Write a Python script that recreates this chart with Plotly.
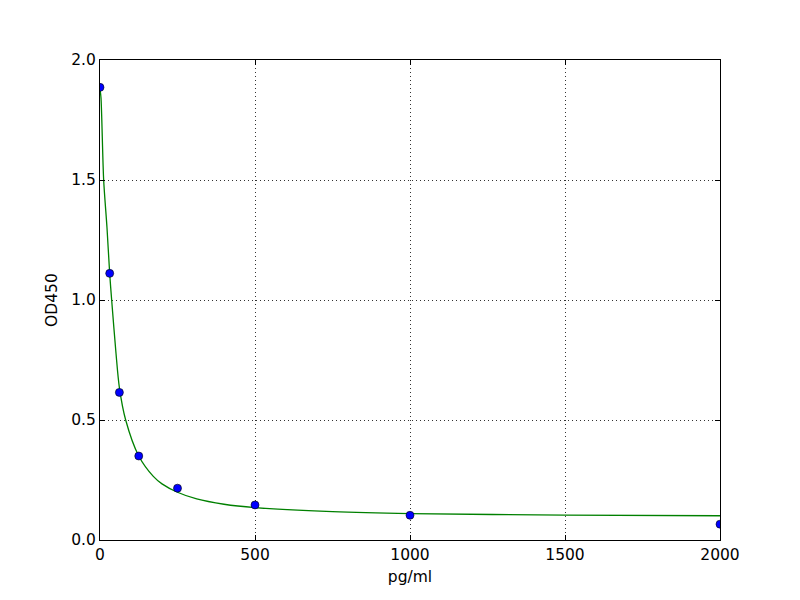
import plotly.graph_objects as go

# Standard points
conc = [0, 31.25, 62.5, 125, 250, 500, 1000, 2000]
od450 = [1.886, 1.111, 0.615, 0.350, 0.216, 0.146, 0.103, 0.066]

# Fitted curve
curve_x = [0, 3.2, 11.8, 22.6, 31.25, 37.6, 51.6, 62.5, 82.8, 125, 172, 200, 250, 312, 400, 500, 750, 1000, 1500, 2000]
curve_y = [1.88, 1.842, 1.5, 1.3, 1.11, 1.0, 0.778, 0.635, 0.5, 0.35, 0.265, 0.234, 0.199, 0.171, 0.149, 0.135, 0.118, 0.110, 0.104, 0.101]

x_ticks = [0, 500, 1000, 1500, 2000]
y_ticks = [0.0, 0.5, 1.0, 1.5, 2.0]

fig = go.Figure()
fig.add_trace(go.Scatter(x=curve_x, y=curve_y, mode="lines",
                         line=dict(color="#008000", width=1.3, shape="spline", smoothing=0.8),
                         hoverinfo="skip", showlegend=False))
fig.add_trace(go.Scatter(x=conc, y=od450, mode="markers",
                         marker=dict(color="#0000ff", size=8, line=dict(color="#000000", width=0.6)),
                         showlegend=False))

font = dict(family="DejaVu Sans", size=15.5, color="black")
axis_common = dict(showline=True, linecolor="black", linewidth=1, mirror="allticks",
                   ticks="inside", ticklen=5, tickcolor="black",
                   showgrid=True, gridcolor="#333", griddash="1px,3px", gridwidth=0.8,
                   zeroline=False, tickfont=font)

# Page body has an 8px margin: figure is 792x592 so that the plot area
# lands at x 100..720, y 60..540 in the 800x600 window.
fig.update_layout(
    width=792, height=592,
    margin=dict(l=92, r=80, t=52, b=60),
    paper_bgcolor="white", plot_bgcolor="white",
    font=font,
    xaxis=dict(range=[0, 2000], tickvals=x_ticks, ticktext=[str(v) for v in x_ticks],
               title=dict(text="pg/ml", font=font, standoff=8), **axis_common),
    yaxis=dict(range=[0, 2.0], tickvals=y_ticks, ticktext=[f"{v:.1f}" for v in y_ticks],
               title=dict(text="OD450", font=font, standoff=9), **axis_common),
)

fig.write_html("out.html")
